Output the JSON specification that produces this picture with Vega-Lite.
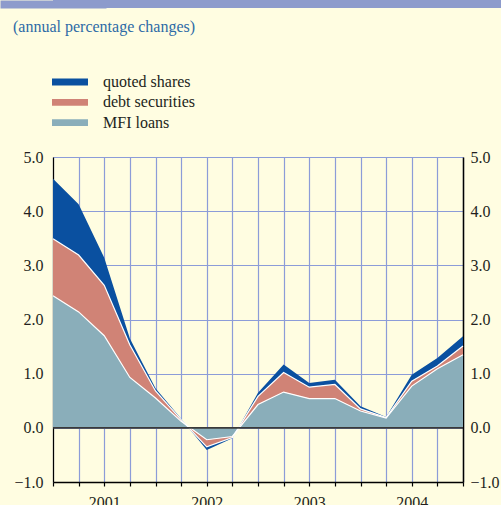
{
  "$schema": "https://vega.github.io/schema/vega-lite/v6.json",
  "background": "#fffde1",
  "padding": 0,
  "spacing": 37,
  "config": {"view": {"stroke": null}, "font": "Liberation Serif"},
  "resolve": {"legend": {"color": "independent"}},
  "vconcat": [
    {
      "width": 448,
      "height": 8,
      "view": {"fill": "#8d9bcc", "stroke": null},
      "title": {"text": "(annual percentage changes)", "orient": "bottom", "anchor": "start", "dx": -40, "offset": 6, "fontSize": 16, "font": "Liberation Serif", "fontWeight": "normal", "color": "#2d6aa6"},
      "data": {"values": [{"label": "", "k": 0}]},
      "mark": {"type": "text"},
      "encoding": {
        "text": {"field": "label"},
        "y": {"field": "k", "type": "quantitative", "scale": {"domain": [0, 1]},
          "axis": {"title": null, "labels": false, "ticks": false, "grid": false, "domainColor": "#8d9bcc", "domainOpacity": 1, "domainWidth": 106, "domainCap": "butt"}}
      }
    },
    {
      "width": 410,
      "height": 325,
      "data": {"values": [
        {"q": 0, "series": "MFI loans", "v": 2.44}, {"q": 0, "series": "debt securities", "v": 1.05}, {"q": 0, "series": "quoted shares", "v": 1.11},
        {"q": 1, "series": "MFI loans", "v": 2.14}, {"q": 1, "series": "debt securities", "v": 1.05}, {"q": 1, "series": "quoted shares", "v": 0.94},
        {"q": 2, "series": "MFI loans", "v": 1.70}, {"q": 2, "series": "debt securities", "v": 0.93}, {"q": 2, "series": "quoted shares", "v": 0.51},
        {"q": 3, "series": "MFI loans", "v": 0.93}, {"q": 3, "series": "debt securities", "v": 0.60}, {"q": 3, "series": "quoted shares", "v": 0.12},
        {"q": 4, "series": "MFI loans", "v": 0.55}, {"q": 4, "series": "debt securities", "v": 0.13}, {"q": 4, "series": "quoted shares", "v": 0.05},
        {"q": 5, "series": "MFI loans", "v": 0.12}, {"q": 5, "series": "debt securities", "v": 0.03}, {"q": 5, "series": "quoted shares", "v": 0.02},
        {"q": 6, "series": "MFI loans", "v": -0.22}, {"q": 6, "series": "debt securities", "v": -0.13}, {"q": 6, "series": "quoted shares", "v": -0.06},
        {"q": 7, "series": "MFI loans", "v": -0.16}, {"q": 7, "series": "debt securities", "v": -0.02}, {"q": 7, "series": "quoted shares", "v": -0.01},
        {"q": 8, "series": "MFI loans", "v": 0.43}, {"q": 8, "series": "debt securities", "v": 0.15}, {"q": 8, "series": "quoted shares", "v": 0.07},
        {"q": 9, "series": "MFI loans", "v": 0.66}, {"q": 9, "series": "debt securities", "v": 0.36}, {"q": 9, "series": "quoted shares", "v": 0.15},
        {"q": 10, "series": "MFI loans", "v": 0.54}, {"q": 10, "series": "debt securities", "v": 0.21}, {"q": 10, "series": "quoted shares", "v": 0.08},
        {"q": 11, "series": "MFI loans", "v": 0.54}, {"q": 11, "series": "debt securities", "v": 0.26}, {"q": 11, "series": "quoted shares", "v": 0.09},
        {"q": 12, "series": "MFI loans", "v": 0.31}, {"q": 12, "series": "debt securities", "v": 0.04}, {"q": 12, "series": "quoted shares", "v": 0.05},
        {"q": 13, "series": "MFI loans", "v": 0.18}, {"q": 13, "series": "debt securities", "v": 0.01}, {"q": 13, "series": "quoted shares", "v": 0.01},
        {"q": 14, "series": "MFI loans", "v": 0.77}, {"q": 14, "series": "debt securities", "v": 0.09}, {"q": 14, "series": "quoted shares", "v": 0.12},
        {"q": 15, "series": "MFI loans", "v": 1.09}, {"q": 15, "series": "debt securities", "v": 0.05}, {"q": 15, "series": "quoted shares", "v": 0.15},
        {"q": 16, "series": "MFI loans", "v": 1.35}, {"q": 16, "series": "debt securities", "v": 0.16}, {"q": 16, "series": "quoted shares", "v": 0.18}
      ]},
      "transform": [
        {"stack": "v", "groupby": ["q"], "sort": [{"field": "series", "order": "ascending"}], "as": ["y0", "y1"]}
      ],
      "layer": [
        {
          "mark": {"type": "area", "opacity": 1, "interpolate": "linear"},
          "encoding": {
            "x": {"field": "q", "type": "quantitative", "scale": {"domain": [0, 16], "nice": false, "zero": false},
              "axis": {"values": [0,1,2,3,4,5,6,7,8,9,10,11,12,13,14,15,16], "labelExpr": "datum.value % 4 == 2 ? '' + (2001 + floor(datum.value / 4)) : ''", "labelOverlap": false, "title": null,
                "domainColor": "#000000", "domainWidth": 1.5, "tickColor": "#000000", "tickSize": 4, "tickWidth": 1.2,
                "labelFont": "Liberation Serif", "labelFontSize": 16, "labelColor": "#231f20", "labelPadding": 8,
                "grid": true, "gridColor": "#8c9cd8", "gridWidth": 1.2}},
            "y": {"field": "y1", "type": "quantitative", "scale": {"domain": [-1, 5], "nice": false, "zero": false},
              "axis": {"values": [-1,0,1,2,3,4,5], "format": ".1f", "title": "\u00a0", "titleFontSize": 10, "titlePadding": 3,
                "domainColor": "#000000", "domainWidth": 1.2, "ticks": false,
                "labelFont": "Liberation Serif", "labelFontSize": 16, "labelColor": "#231f20", "labelPadding": 10,
                "grid": true, "gridColor": "#8c9cd8", "gridWidth": 1.2}},
            "y2": {"field": "y0"},
            "color": {"field": "series", "type": "nominal",
              "scale": {"domain": ["quoted shares", "debt securities", "MFI loans"], "range": ["#0a50a0", "#d08376", "#8aaeba"]},
              "legend": {"title": null, "orient": "none", "legendX": -1, "legendY": -85, "padding": 0,
                "symbolType": "M-1,-0.19H1V0.19H-1Z", "symbolSize": 1296, "symbolStrokeWidth": 0, "symbolOpacity": 1,
                "clipHeight": 20, "rowPadding": 0.3, "labelOffset": 15,
                "labelFont": "Liberation Serif", "labelFontSize": 16, "labelColor": "#231f20"}}
          }
        },
        {
          "transform": [{"filter": "datum.series != 'quoted shares'"}],
          "mark": {"type": "line", "color": "#ffffff", "strokeWidth": 1.2},
          "encoding": {
            "x": {"field": "q", "type": "quantitative",
              "axis": {"values": [0,1,2,3,4,5,6,7,8,9,10,11,12,13,14,15,16], "labelExpr": "datum.value % 4 == 2 ? '' + (2001 + floor(datum.value / 4)) : ''", "labelOverlap": false, "title": null,
                "domainColor": "#000000", "domainWidth": 1.5, "tickColor": "#000000", "tickSize": 4, "tickWidth": 1.2,
                "labelFont": "Liberation Serif", "labelFontSize": 16, "labelColor": "#231f20", "labelPadding": 8,
                "grid": true, "gridColor": "#8c9cd8", "gridWidth": 1.2}},
            "y": {"field": "y1", "type": "quantitative",
              "axis": {"orient": "right", "values": [-1,0,1,2,3,4,5], "format": ".1f", "title": null,
                "domainColor": "#000000", "domainWidth": 1.5, "ticks": false,
                "labelFont": "Liberation Serif", "labelFontSize": 16, "labelColor": "#231f20", "labelPadding": 7, "grid": false}},
            "detail": {"field": "series"}
          }
        },
        {
          "data": {"values": [{"zero": 0}]},
          "mark": {"type": "rule", "color": "#3a3a3a", "strokeWidth": 1.6},
          "encoding": {"y": {"field": "zero", "type": "quantitative", "axis": null}}
        }
      ],
      "resolve": {"axis": {"y": "independent"}}
    }
  ]
}
